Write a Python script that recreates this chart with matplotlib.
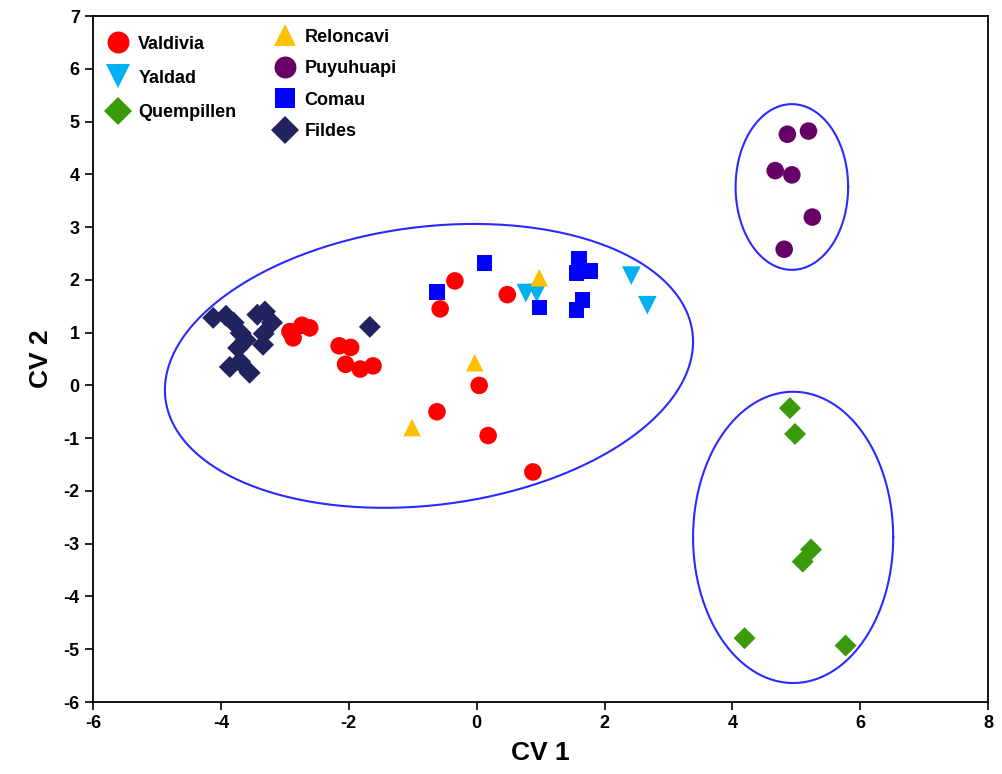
import numpy as np
import matplotlib
matplotlib.use("Agg")
import matplotlib.pyplot as plt
from matplotlib.lines import Line2D

plt.rcParams['font.family'] = ['Liberation Sans', 'DejaVu Sans']
plt.rcParams['font.weight'] = 'bold'
plt.rcParams['axes.unicode_minus'] = False

# data (CV1, CV2)
valdivia_x = [-2.92, -2.73, -2.61, -2.87, -2.15, -1.97, -2.05, -1.82, -1.62,
              -0.34, -0.57, 0.48, 0.04, -0.62, 0.18, 0.88]
valdivia_y = [1.02, 1.14, 1.09, 0.90, 0.75, 0.72, 0.40, 0.31, 0.37,
              1.98, 1.45, 1.72, 0.0, -0.50, -0.95, -1.64]

yaldad_x = [0.77, 0.94, 2.42, 2.67]
yaldad_y = [1.75, 1.75, 2.08, 1.52]

quempillen_x = [4.90, 4.98, 5.23, 5.10, 4.19, 5.77]
quempillen_y = [-0.43, -0.92, -3.11, -3.34, -4.79, -4.93]

reloncavi_x = [0.98, -0.03, -1.01]
reloncavi_y = [2.04, 0.43, -0.80]

puyuhuapi_x = [4.86, 5.19, 4.67, 4.93, 5.25, 4.81]
puyuhuapi_y = [4.76, 4.82, 4.07, 3.99, 3.19, 2.58]

comau_x = [0.12, -0.62, 0.98, 1.60, 1.56, 1.78, 1.65, 1.56]
comau_y = [2.32, 1.77, 1.47, 2.41, 2.13, 2.17, 1.62, 1.43]

fildes_x = [-4.12, -3.92, -3.80, -3.69, -3.61, -3.73, -3.43, -3.31, -3.20,
            -3.33, -3.34, -3.86, -3.70, -3.55, -1.67]
fildes_y = [1.28, 1.32, 1.19, 0.99, 0.86, 0.71, 1.34, 1.40, 1.19,
            0.98, 0.77, 0.35, 0.45, 0.24, 1.11]

# group ellipses: centre x, centre y, half-extent x, half-extent y, phase
ell_cx = [-0.745, 4.93, 4.95]
ell_cy = [0.37, 3.76, -2.88]
ell_ax = [4.13, 0.88, 1.565]
ell_ay = [2.69, 1.57, 2.76]
ell_phase = [1.40, np.pi / 2, np.pi / 2]

groups = [
    ('Valdivia', valdivia_x, valdivia_y, 'o', '#ff0000', 160),
    ('Yaldad', yaldad_x, yaldad_y, 'v', '#00b0f0', 180),
    ('Quempillen', quempillen_x, quempillen_y, 'D', '#3a9a0a', 125),
    ('Reloncavi', reloncavi_x, reloncavi_y, '^', '#ffc000', 160),
    ('Puyuhuapi', puyuhuapi_x, puyuhuapi_y, 'o', '#660066', 160),
    ('Comau', comau_x, comau_y, 's', '#0000ff', 120),
    ('Fildes', fildes_x, fildes_y, 'D', '#22225e', 125),
]

fig = plt.figure(figsize=(10.03, 7.74), dpi=100)
ax = fig.add_axes([0.0927, 0.093, 0.8925, 0.8863])

t = np.linspace(0, 2 * np.pi, 400)
for cx, cy, a, b, ph in zip(ell_cx, ell_cy, ell_ax, ell_ay, ell_phase):
    ax.plot(cx + a * np.cos(t), cy + b * np.cos(t - ph), color='#2a2aff', lw=1.5, zorder=1)

for name, xs, ys, m, c, s in groups:
    ax.scatter(xs, ys, marker=m, s=s, color=c, edgecolors='none', zorder=3)

ax.set_xlim(-6, 8)
ax.set_ylim(-6, 7)
ax.set_xticks(range(-6, 9, 2))
ax.set_yticks(range(-6, 8))
ax.tick_params(direction='out', length=6, width=1.2, labelsize=13)
for sp in ax.spines.values():
    sp.set_linewidth(1.3)
ax.set_xlabel('CV 1', fontsize=19, fontweight='bold', labelpad=6)
ax.set_ylabel('CV 2', fontsize=19, fontweight='bold', labelpad=8)


def handle(m, c, s):
    return Line2D([], [], marker=m, color=c, linestyle='none',
                  markersize=np.sqrt(s) * 1.25, markeredgewidth=0)


h1 = [handle(m, c, s) for _, _, _, m, c, s in groups[:3]]
h2 = [handle(m, c, s) for _, _, _, m, c, s in groups[3:]]
leg1 = ax.legend(h1, [g[0] for g in groups[:3]], loc='upper left',
                 bbox_to_anchor=(-0.006, 0.99), frameon=False, fontsize=13,
                 labelspacing=0.95, handletextpad=0.1, borderpad=0.2)
ax.add_artist(leg1)
ax.legend(h2, [g[0] for g in groups[3:]], loc='upper left',
          bbox_to_anchor=(0.18, 1.0), frameon=False, fontsize=13,
          labelspacing=0.8, handletextpad=0.1, borderpad=0.2)

fig.savefig('out.png', dpi=100)
